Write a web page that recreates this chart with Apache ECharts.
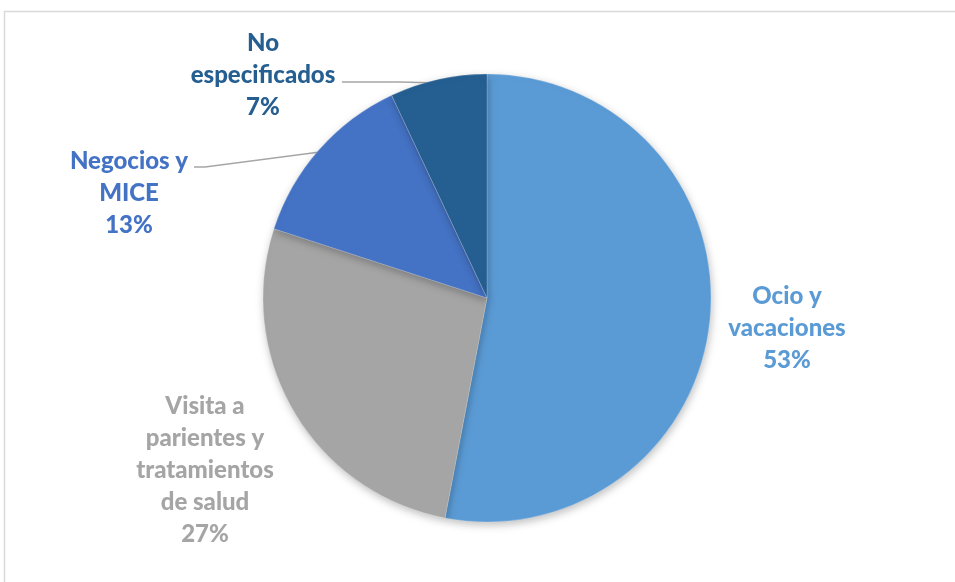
<!DOCTYPE html>
<html>
<head>
<meta charset="utf-8">
<script src="https://cdn.jsdelivr.net/npm/echarts@6/dist/echarts.min.js"></script>
<style>
html,body{margin:0;padding:0;background:#fff;}
#c{width:955px;height:582px;}
</style>
</head>
<body>
<div id="c"></div>
<script>
const categories = ['Ocio y\nvacaciones', 'Visita a\nparientes y\ntratamientos\nde salud', 'Negocios y\nMICE', 'No\nespecificados'];
const values = [53, 27, 13, 7];
const colors = ['#5B9BD5', '#A5A5A5', '#4472C4', '#255E91'];

const labelPos = [
  {x: 787, y: 328},
  {x: 205, y: 470},
  {x: 129, y: 193},
  {x: 263, y: 75}
];
const linePts = [
  null,
  null,
  [[320, 152], [205, 167], [194, 167]],
  [[440, 83], [400, 82], [342, 82]]
];
const showLine = [false, false, true, true];

const chart = echarts.init(document.getElementById('c'));
chart.setOption({
  backgroundColor: '#fff',
  animation: false,
  graphic: [{
    type: 'rect',
    shape: {x: 4.5, y: 11.5, width: 1000, height: 1000},
    style: {fill: 'none', stroke: '#D9D9D9', lineWidth: 1.5},
    silent: true, z: -1
  }],
  series: [{
    type: 'pie',
    center: [487, 298],
    radius: 224,
    startAngle: 90,
    clockwise: true,
    itemStyle: {
      borderColor: 'rgba(255,255,255,0.4)',
      borderWidth: 0.5,
      shadowBlur: 8,
      shadowColor: 'rgba(0,0,0,0.25)',
      shadowOffsetX: 1,
      shadowOffsetY: 3
    },
    label: {
      show: true,
      formatter: '{b}\n{d}%',
      fontFamily: 'Lato',
      fontWeight: 900,
      fontSize: 24,
      lineHeight: 32,
      align: 'center'
    },
    labelLine: {
      lineStyle: {color: '#A6A6A6', width: 1.5}
    },
    labelLayout: function (p) {
      const pos = labelPos[p.dataIndex];
      const o = {x: pos.x, y: pos.y, align: 'center', verticalAlign: 'middle'};
      if (linePts[p.dataIndex]) o.labelLinePoints = linePts[p.dataIndex];
      return o;
    },
    data: categories.map((name, i) => ({
      name: name,
      value: values[i],
      itemStyle: {color: colors[i]},
      label: {color: colors[i]},
      labelLine: {show: showLine[i]}
    }))
  }]
});
</script>
</body>
</html>
